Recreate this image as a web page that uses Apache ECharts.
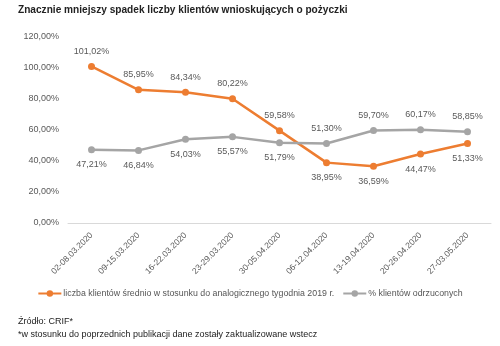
<!DOCTYPE html>
<html>
<head>
<meta charset="utf-8">
<script src="https://cdn.jsdelivr.net/npm/echarts@6/dist/echarts.min.js"></script>
<style>
html,body{margin:0;padding:0;background:#fff;}
#chart{width:500px;height:346px;}
</style>
</head>
<body>
<div id="chart"></div>
<script>
// Weekly periods
var weeks = ['02-08.03.2020','09-15.03.2020','16-22.03.2020','23-29.03.2020','30-05.04.2020','06-12.04.2020','13-19.04.2020','20-26.04.2020','27-03.05.2020'];
// Average number of applicants vs the same week of 2019 (%)
var clientsVs2019 = [101.02, 85.95, 84.34, 80.22, 59.58, 38.95, 36.59, 44.47, 51.33];
// Share of rejected applicants (%)
var rejectedShare = [47.21, 46.84, 54.03, 55.57, 51.79, 51.30, 59.70, 60.17, 58.85];
// Label placement per point
var clientsLabelPos = ['top','top','top','top','top','bottom','bottom','bottom','bottom'];
var rejectedLabelPos = ['bottom','bottom','bottom','bottom','bottom','top','top','top','top'];

var FONT = 'Liberation Sans';
function pct(v){ return v.toFixed(2).replace('.', ',') + '%'; }
function points(values, positions){
  return values.map(function(v,i){ return {value:v, label:{position:positions[i]}}; });
}

var chart = echarts.init(document.getElementById('chart'));
chart.setOption({
  animation:false,
  textStyle:{fontFamily:FONT},
  grid:{left:68, right:9, top:37, bottom:123},
  legend:{
    bottom:43, left:'center',
    itemWidth:23, itemHeight:8, itemGap:8,
    textStyle:{fontFamily:FONT, fontSize:8.8, color:'#555', padding:[0,0,0,-3]},
    data:['liczba klientów średnio w stosunku do analogicznego tygodnia 2019 r.','% klientów odrzuconych']
  },
  xAxis:{
    type:'category', data:weeks, boundaryGap:true,
    axisLine:{lineStyle:{color:'#d9d9d9'}},
    axisTick:{show:false},
    axisLabel:{rotate:45, fontSize:8.5, color:'#595959', margin:11, fontFamily:FONT}
  },
  yAxis:{
    type:'value', min:0, max:120, interval:20,
    splitLine:{show:false},
    axisLine:{show:false}, axisTick:{show:false},
    axisLabel:{fontSize:9, color:'#595959', margin:9, fontFamily:FONT, formatter:function(v){return pct(v);}}
  },
  series:[
    {
      name:'liczba klientów średnio w stosunku do analogicznego tygodnia 2019 r.',
      type:'line', data:points(clientsVs2019, clientsLabelPos),
      symbol:'circle', symbolSize:7,
      itemStyle:{color:'#ED7D31'}, lineStyle:{width:2.5, color:'#ED7D31'},
      label:{show:true, fontSize:9, color:'#595959', distance:7, fontFamily:FONT, formatter:function(p){return pct(p.value);}}
    },
    {
      name:'% klientów odrzuconych',
      type:'line', data:points(rejectedShare, rejectedLabelPos),
      symbol:'circle', symbolSize:7,
      itemStyle:{color:'#A5A5A5'}, lineStyle:{width:2.5, color:'#A5A5A5'},
      label:{show:true, fontSize:9, color:'#595959', distance:7, fontFamily:FONT, formatter:function(p){return pct(p.value);}}
    }
  ],
  graphic:[
    {type:'text', x:18, y:4, scaleX:0.88, style:{text:'Znacznie mniejszy spadek liczby klientów wnioskujących o pożyczki', font:'bold 11.5px '+FONT, fill:'#222'}},
    {type:'text', left:18, top:317, style:{text:'Źródło: CRIF*', font:'9px '+FONT, fill:'#222'}},
    {type:'text', left:18, top:330, style:{text:'*w stosunku do poprzednich publikacji dane zostały zaktualizowane wstecz', font:'9px '+FONT, fill:'#222'}}
  ]
});
</script>
</body>
</html>
